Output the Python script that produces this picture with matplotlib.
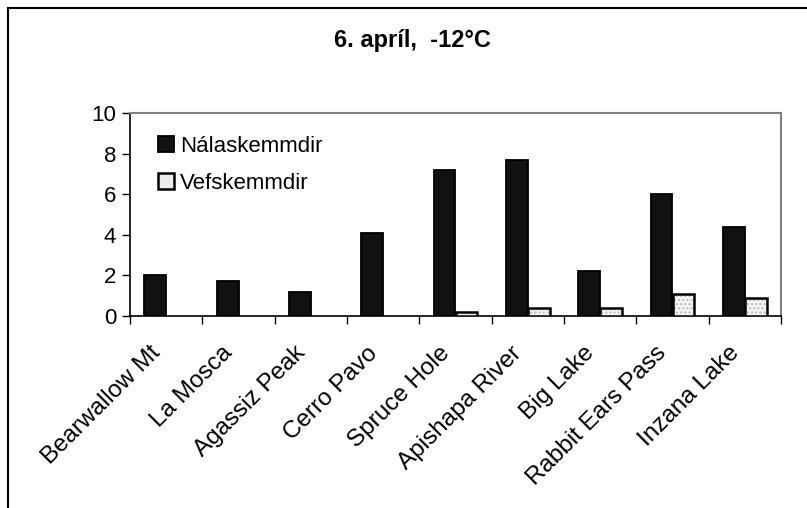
import numpy as np
import matplotlib
matplotlib.use("Agg")
import matplotlib.pyplot as plt
from matplotlib.patches import Rectangle
from matplotlib.transforms import ScaledTranslation

plt.rcParams['font.family'] = ['Liberation Sans', 'DejaVu Sans']

# damage per site
sites = ["Bearwallow Mt", "La Mosca", "Agassiz Peak", "Cerro Pavo", "Spruce Hole",
         "Apishapa River", "Big Lake", "Rabbit Ears Pass", "Inzana Lake"]
nalaskemmdir = [2.0, 1.7, 1.2, 4.1, 7.2, 7.7, 2.2, 6.0, 4.4]
vefskemmdir = [0.0, 0.0, 0.0, 0.0, 0.2, 0.4, 0.4, 1.1, 0.9]
y_ticks = [0, 2, 4, 6, 8, 10]
series_names = ["Nálaskemmdir", "Vefskemmdir"]
title = "6. apríl,  -12°C"

W, H = 807, 508
fig = plt.figure(figsize=(W / 100, H / 100), dpi=100)
ax = fig.add_axes([130 / W, 1 - 316 / H, 651 / W, 203 / H])

x = np.arange(len(sites))
bw = 0.3
ax.bar(x - bw / 2, nalaskemmdir, bw, color="#111111", edgecolor="black", linewidth=1.3, zorder=3)
# light dotted fill for the second series, outline drawn on top
ax.bar(x + bw / 2, vefskemmdir, bw, color="#f4f4f4", edgecolor="#b8b8b8", hatch="....",
       linewidth=0, zorder=3)
b2 = ax.bar(x + bw / 2, vefskemmdir, bw, color="none", edgecolor="black", linewidth=1.8, zorder=4)
for r, v in zip(b2, vefskemmdir):
    if v == 0:
        r.set_visible(False)

ax.set_xlim(-0.5, len(sites) - 0.5)
ax.set_ylim(0, 10)
ax.set_yticks(y_ticks)
ax.set_xticks(np.arange(-0.5, len(sites)))
ax.set_xticklabels([])
ax.tick_params(axis="x", length=6, width=1, direction="out")
ax.tick_params(axis="y", length=6, width=1, direction="out", labelsize=16, pad=4)

# slanted site names under each category
off = ax.transData + ScaledTranslation(-17 / 100, -26 / 100, fig.dpi_scale_trans)
for xi, name in zip(x, sites):
    ax.text(xi, 0, name, transform=off, rotation=45, ha="right", va="top",
            rotation_mode="anchor", fontsize=17.5, clip_on=False)

for side in ["top", "right"]:
    ax.spines[side].set_color("#808080")
    ax.spines[side].set_linewidth(1.5)
for side in ["left", "bottom"]:
    ax.spines[side].set_color("black")
    ax.spines[side].set_linewidth(1.2)

fig.text(412 / W, 1 - 40 / H, title, ha="center", va="center", fontsize=17, fontweight="bold")

handles = [Rectangle((0, 0), 1, 1, facecolor="#111111", edgecolor="black", linewidth=1.3),
           Rectangle((0, 0), 1, 1, facecolor="#ececec", edgecolor="black", linewidth=1.8)]
fig.legend(handles, series_names, loc="upper left",
           bbox_to_anchor=(158 / W, 1 - 136 / H), frameon=False, fontsize=16,
           handlelength=0.7, handleheight=0.7, handletextpad=0.3, labelspacing=0.72,
           borderpad=0, borderaxespad=0)

# outer chart border
fig.patches.append(Rectangle((8 / W, -0.1), 1.0, 1 - 8 / H + 0.1, transform=fig.transFigure,
                             fill=False, edgecolor="black", linewidth=1.5))

fig.savefig("out.png", dpi=100)
